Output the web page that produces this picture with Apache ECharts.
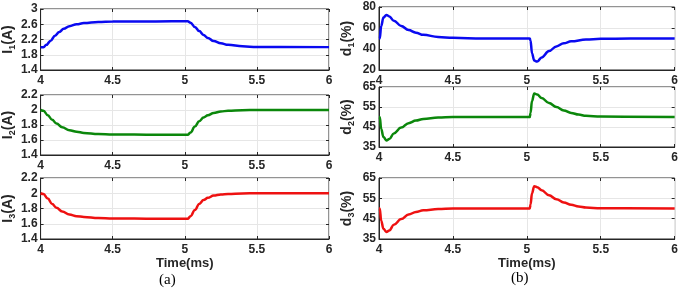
<!DOCTYPE html>
<html>
<head>
<meta charset="utf-8">
<script src="https://cdn.jsdelivr.net/npm/echarts@6/dist/echarts.min.js"></script>
<style>
html,body{margin:0;padding:0;background:#fff;}
#main{width:681px;height:289px;}
</style>
</head>
<body>
<div id="main"></div>
<script>
// time axis (ms) and tick labels
var xTicks = [4, 4.5, 5, 5.5, 6];
var iTicks1 = [1.4, 1.8, 2.2, 2.6, 3];
var iTicks2 = [1.4, 1.6, 1.8, 2, 2.2];
var dTicks1 = [20, 40, 60, 80];
var dTicks2 = [35, 45, 55, 65];

// currents I1..I3 (A), [time, value]
var i1 = [[4.00,2.00],[4.02,2.00],[4.04,2.06],[4.07,2.17],[4.10,2.30],[4.13,2.40],[4.16,2.48],[4.20,2.55],[4.25,2.60],[4.30,2.63],[4.40,2.66],[4.50,2.67],[4.80,2.675],[5.02,2.68],[5.04,2.64],[5.07,2.53],[5.10,2.42],[5.13,2.32],[5.16,2.24],[5.20,2.16],[5.25,2.10],[5.30,2.06],[5.40,2.02],[5.50,2.005],[6.00,2.00]];
var i2 = [[4.00,2.00],[4.02,1.99],[4.05,1.93],[4.08,1.87],[4.11,1.82],[4.15,1.77],[4.20,1.73],[4.25,1.71],[4.30,1.695],[4.40,1.68],[4.50,1.675],[4.80,1.67],[5.02,1.67],[5.04,1.70],[5.07,1.78],[5.10,1.85],[5.13,1.90],[5.16,1.93],[5.20,1.96],[5.25,1.98],[5.30,1.99],[5.40,1.997],[5.50,2.00],[6.00,2.00]];
var i3 = [[4.00,2.00],[4.02,1.99],[4.05,1.93],[4.08,1.86],[4.11,1.81],[4.15,1.76],[4.20,1.72],[4.25,1.70],[4.30,1.69],[4.40,1.675],[4.50,1.67],[4.80,1.665],[5.02,1.665],[5.04,1.70],[5.07,1.78],[5.10,1.86],[5.13,1.91],[5.16,1.94],[5.20,1.97],[5.25,1.985],[5.30,1.99],[5.40,1.997],[5.50,2.00],[6.00,2.00]];

// duty cycles d1..d3 (%)
var d1 = [[4.00,50],[4.005,50],[4.015,62],[4.03,70],[4.05,72.5],[4.07,71],[4.10,67],[4.15,62],[4.20,58],[4.25,55.5],[4.30,53.5],[4.40,51.5],[4.50,50.6],[4.70,50.1],[5.02,50],[5.025,48],[5.035,36],[5.05,29],[5.07,28],[5.10,32],[5.15,38],[5.20,42.5],[5.25,45.5],[5.30,47.3],[5.40,49],[5.50,49.7],[5.70,50],[6.00,50]];
var d2 = [[4.00,50],[4.005,50],[4.015,44],[4.03,40],[4.05,38.3],[4.07,39],[4.10,41.8],[4.15,44.7],[4.20,46.9],[4.25,48.2],[4.30,49],[4.40,49.7],[4.50,50],[5.02,50],[5.025,52],[5.035,58],[5.05,61.8],[5.07,61.2],[5.10,59.5],[5.15,57],[5.20,55],[5.25,53.3],[5.30,52],[5.35,51.2],[5.40,50.6],[5.50,50.2],[6.00,50]];
var d3 = [[4.00,50],[4.005,50],[4.015,44],[4.03,40],[4.05,38.5],[4.07,39.2],[4.10,42],[4.15,44.8],[4.20,47],[4.25,48.3],[4.30,49.1],[4.40,49.7],[4.50,50],[5.02,50],[5.025,52],[5.035,57.5],[5.05,61],[5.07,60.5],[5.10,59],[5.15,56.5],[5.20,54.6],[5.25,53],[5.30,51.8],[5.35,51],[5.40,50.5],[5.50,50.1],[6.00,50]];

var TXT = '#262626';
var FONT = 'Liberation Sans, Arial, sans-serif';

var panels = [
  {left:36,  top:9,   width:293, height:61, ticks:iTicks1, data:i1, color:'#0a0af0', sym:'I', sub:'1', unit:'(A)', gap:20},
  {left:36,  top:95,  width:293, height:60, ticks:iTicks2, data:i2, color:'#0b870b', sym:'I', sub:'2', unit:'(A)', gap:20},
  {left:36,  top:178, width:293, height:61, ticks:iTicks2, data:i3, color:'#ee1111', sym:'I', sub:'3', unit:'(A)', gap:20, time:true},
  {left:379, top:7,   width:296, height:63, ticks:dTicks1, data:d1, color:'#0a0af0', sym:'d', sub:'1', unit:'(%)', gap:23},
  {left:379, top:87,  width:296, height:60, ticks:dTicks2, data:d2, color:'#0b870b', sym:'d', sub:'2', unit:'(%)', gap:23},
  {left:379, top:178, width:296, height:61, ticks:dTicks2, data:d3, color:'#ee1111', sym:'d', sub:'3', unit:'(%)', gap:23, time:true}
];

var grids = [], xAxes = [], yAxes = [], series = [];
panels.forEach(function (p, k) {
  grids.push({left:p.left, top:p.top, width:p.width, height:p.height,
    show:true, borderColor:TXT, borderWidth:1, backgroundColor:'#fff'});
  xAxes.push({
    type:'value', gridIndex:k, min:4, max:6, interval:0.5,
    name: p.time ? 'Time(ms)' : '', nameLocation:'middle', nameGap: k < 3 ? 17 : 15,
    nameTextStyle:{color:TXT, fontFamily:FONT, fontWeight:'bold', fontSize:13},
    axisLine:{show:true, lineStyle:{color:TXT}},
    axisTick:{show:true, inside:true, length:3, lineStyle:{color:TXT}},
    axisLabel:{color:TXT, fontFamily:FONT, fontWeight:'bold', fontSize:12, margin:5,
      showMinLabel:true, showMaxLabel:true},
    splitLine:{show:true, lineStyle:{color:'#e6e6e6', width:1}}
  });
  yAxes.push({
    type:'value', gridIndex:k, min:p.ticks[0], max:p.ticks[p.ticks.length-1],
    name:'{b|' + p.sym + '}{s|' + p.sub + '}{b|' + p.unit + '}',
    nameLocation:'middle', nameRotate:90, nameGap:p.gap,
    nameTextStyle:{
      rich:{
        b:{color:TXT, fontFamily:FONT, fontWeight:'bold', fontSize:14, lineHeight:18, verticalAlign:'middle'},
        s:{color:TXT, fontFamily:FONT, fontWeight:'bold', fontSize:9, lineHeight:18, verticalAlign:'bottom'}
      }
    },
    axisLine:{show:true, lineStyle:{color:TXT}},
    axisTick:{show:true, inside:true, length:3, lineStyle:{color:TXT}, customValues:p.ticks},
    axisLabel:{color:TXT, fontFamily:FONT, fontWeight:'bold', fontSize:12, margin:3,
      customValues:p.ticks, showMinLabel:true, showMaxLabel:true},
    splitLine:{show:true, lineStyle:{color:'#e6e6e6', width:1}}
  });
  // MATLAB-style box: inward ticks on the top and right edges too
  xAxes.push({
    type:'value', gridIndex:k, min:4, max:6, interval:0.5, position:'top',
    axisLine:{show:false}, axisLabel:{show:false}, splitLine:{show:false},
    axisTick:{show:true, inside:true, length:3, lineStyle:{color:TXT}}
  });
  yAxes.push({
    type:'value', gridIndex:k, min:p.ticks[0], max:p.ticks[p.ticks.length-1], position:'right',
    axisLine:{show:false}, axisLabel:{show:false, customValues:p.ticks}, splitLine:{show:false},
    axisTick:{show:true, inside:true, length:3, lineStyle:{color:TXT}, customValues:p.ticks}
  });
  series.push({
    type:'line', xAxisIndex:2 * k, yAxisIndex:2 * k, data:p.data,
    showSymbol:false, smooth:0.4, smoothMonotone:'x',
    lineStyle:{color:p.color, width:2.5}, z:3
  });
});

var chart = echarts.init(document.getElementById('main'), null, {renderer:'canvas'});
chart.setOption({
  animation:false,
  backgroundColor:'#fff',
  grid:grids, xAxis:xAxes, yAxis:yAxes, series:series,
  title:[
    {text:'(a)', left:154, top:268, textStyle:{fontFamily:'Liberation Serif, Times New Roman, serif', fontWeight:'normal', fontSize:15, color:'#000'}},
    {text:'(b)', left:506, top:266, textStyle:{fontFamily:'Liberation Serif, Times New Roman, serif', fontWeight:'normal', fontSize:15, color:'#000'}}
  ]
});
</script>
</body>
</html>
